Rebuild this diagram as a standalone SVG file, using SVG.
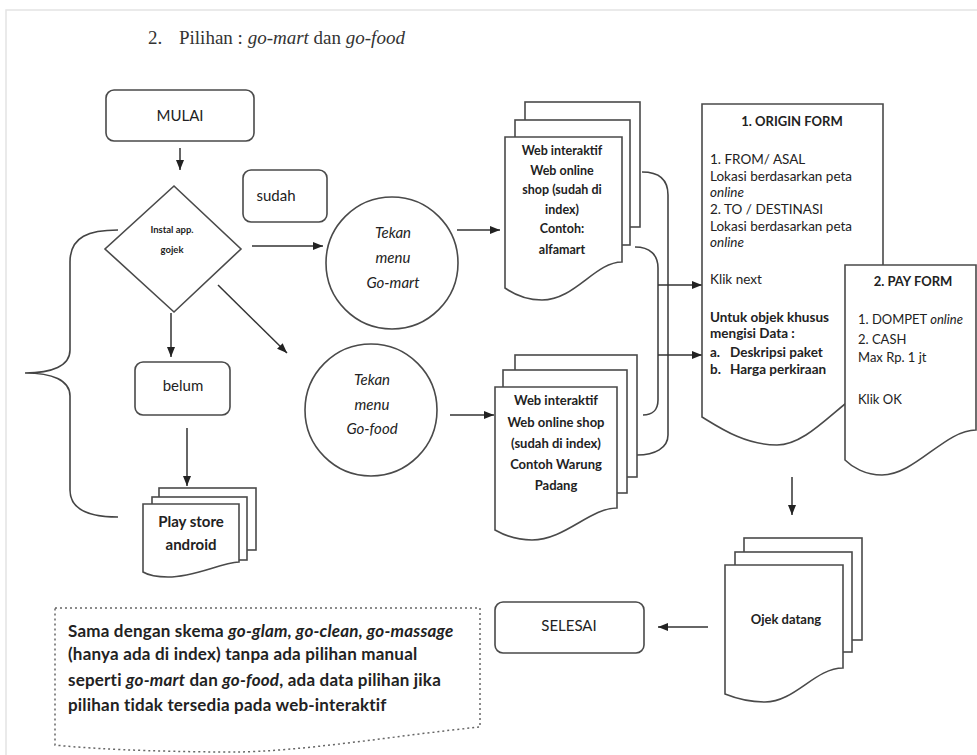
<svg xmlns="http://www.w3.org/2000/svg" width="977" height="755" viewBox="0 0 977 755">
<style>
.shape{fill:#fff;stroke:#4a4a4a;stroke-width:1.6}
.line{fill:none;stroke:#444;stroke-width:1.6}
.arrow{fill:none;stroke:#333;stroke-width:1.5;marker-end:url(#ah)}
.dot{fill:#fff;stroke:#666;stroke-width:1.5;stroke-dasharray:2 3}
text{font-family:Lato,"Liberation Sans",sans-serif;fill:#222}
.c{text-anchor:middle}
.b{font-weight:bold}
.i{font-style:italic}
.t15{font-size:15px}
.t12{font-size:12.5px}
.t13{font-size:13px}
.f13{font-size:13.5px}
.title{font-family:"Liberation Serif","Times New Roman",serif;font-size:19px;fill:#333}
.note{font-size:17px;font-weight:bold;letter-spacing:0.2px}
</style>
<defs>
<marker id="ah" markerUnits="userSpaceOnUse" markerWidth="10" markerHeight="10" viewBox="0 0 10 10" refX="10" refY="5" orient="auto">
<path d="M0,1 L10,5 L0,9 Z" fill="#222"/>
</marker>
</defs>
<rect x="0" y="0" width="977" height="755" fill="#fff"/>
<path d="M6,755 V10 H977" fill="none" stroke="#e4e4e4" stroke-width="1.5"/>

<text class="title" x="148" y="44">2.<tspan x="179">Pilihan : </tspan><tspan font-style="italic">go-mart</tspan> dan <tspan font-style="italic">go-food</tspan></text>

<g id="connectors">
<path class="line" d="M118,230 C90,230 70,236 70,262 L70,350 C70,366 52,373 25,373 C52,373 70,380 70,396 L70,490 C70,510 90,517 118,517"/>
<path class="line" d="M642,172 C660,172 668,180 668,195 V435 C668,448 655,455 637,455"/>
<path class="line" d="M635,247 C650,247 658,255 658,268 V400 C658,410 652,415 643,415"/>
<line class="arrow" x1="180" y1="148" x2="180" y2="170"/>
<line class="arrow" x1="252" y1="246" x2="323" y2="246"/>
<line class="arrow" x1="218" y1="285" x2="287" y2="353"/>
<line class="arrow" x1="171" y1="313" x2="171" y2="357"/>
<line class="arrow" x1="187" y1="428" x2="187" y2="486"/>
<line class="arrow" x1="457" y1="230" x2="500" y2="230"/>
<line class="arrow" x1="450" y1="415" x2="494" y2="415"/>
<line class="arrow" x1="658" y1="285" x2="702" y2="285"/>
<line class="arrow" x1="658" y1="355" x2="702" y2="355" stroke-width="2.2"/>
<line class="arrow" x1="792" y1="477" x2="792" y2="515"/>
<line class="arrow" x1="708" y1="627" x2="658" y2="627"/>
</g>

<g id="mulai">
<rect class="shape" x="106" y="90" width="148" height="51" rx="8"/>
<text class="c t15" x="180" y="121">MULAI</text>
</g>

<g id="instal">
<path class="shape" d="M174,186 L241,249 L174,312 L105,249 Z"/>
<text class="c b" font-size="9.5" x="172" y="233">Instal app.</text>
<text class="c b" font-size="9.5" x="172" y="253">gojek</text>
</g>

<g id="sudah">
<rect class="shape" x="243" y="170" width="84" height="52" rx="8"/>
<text class="c t15" x="276" y="201">sudah</text>
</g>

<g id="belum">
<rect class="shape" x="135" y="362" width="95" height="53" rx="8"/>
<text class="c t15" x="183" y="391">belum</text>
</g>

<g id="gomart">
<circle class="shape" cx="392" cy="263" r="66"/>
<text class="c t15 i" x="393" y="238">Tekan</text>
<text class="c t15 i" x="393" y="263">menu</text>
<text class="c t15 i" x="393" y="288">Go-mart</text>
</g>

<g id="gofood">
<circle class="shape" cx="371" cy="410" r="66"/>
<text class="c t15 i" x="372" y="385">Tekan</text>
<text class="c t15 i" x="372" y="410">menu</text>
<text class="c t15 i" x="372" y="434">Go-food</text>
</g>

<g id="playstore">
<rect class="shape" x="159" y="488" width="97" height="62"/>
<rect class="shape" x="152" y="497" width="95" height="63"/>
<path class="shape" d="M143,504 H239 V562 C220,563 195,577 168,577 C155,577 148,575 143,572 Z"/>
<text class="c b t15" x="191" y="527">Play store</text>
<text class="c b t15" x="191" y="550">android</text>
</g>

<g id="web-gomart">
<rect class="shape" x="525" y="102" width="115" height="125"/>
<rect class="shape" x="515" y="120" width="115" height="125"/>
<path class="shape" d="M505,137 H622 V262 C595,262 575,300 542,300 C525,300 512,293 505,288 Z"/>
<text class="c b t12" x="562" y="155">Web interaktif</text>
<text class="c b t12" x="562" y="175">Web online</text>
<text class="c b t12" x="562" y="194">shop (sudah di</text>
<text class="c b t12" x="562" y="214">index)</text>
<text class="c b t12" x="562" y="233">Contoh:</text>
<text class="c b t12" x="562" y="254">alfamart</text>
</g>

<g id="web-gofood">
<rect class="shape" x="515" y="355" width="122" height="122"/>
<rect class="shape" x="503" y="370" width="124" height="123"/>
<path class="shape" d="M495,387 H617 V508 C590,508 565,540 532,540 C515,540 502,534 495,530 Z"/>
<text class="c b t13" x="556" y="405">Web interaktif</text>
<text class="c b t13" x="556" y="427">Web online shop</text>
<text class="c b t13" x="556" y="448">(sudah di index)</text>
<text class="c b t13" x="556" y="469">Contoh Warung</text>
<text class="c b t13" x="556" y="490">Padang</text>
</g>

<g id="origin-form">
<path class="shape" d="M702,104 H883 V385 C850,385 815,445 777,445 C745,445 720,428 702,417 Z"/>
<text class="c b t13" x="792" y="126">1. ORIGIN FORM</text>
<text class="f13" x="710" y="164">1. FROM/ ASAL</text>
<text class="f13" x="710" y="181">Lokasi berdasarkan peta</text>
<text class="f13 i" x="710" y="197">online</text>
<text class="f13" x="710" y="214">2. TO / DESTINASI</text>
<text class="f13" x="710" y="231">Lokasi berdasarkan peta</text>
<text class="f13 i" x="710" y="247">online</text>
<text class="f13" x="710" y="284">Klik next</text>
<text class="f13 b" x="710" y="322">Untuk objek khusus</text>
<text class="f13 b" x="710" y="338">mengisi Data :</text>
<text class="f13 b" x="710" y="357">a.<tspan x="730">Deskripsi paket</tspan></text>
<text class="f13 b" x="710" y="374">b.<tspan x="730">Harga perkiraan</tspan></text>
</g>

<g id="pay-form">
<path class="shape" d="M845,265 H976 V430 C945,430 915,475 882,475 C865,475 852,467 845,460 Z"/>
<text class="c b t13" x="913" y="286">2. PAY FORM</text>
<text class="t13" x="858" y="324">1. DOMPET <tspan font-style="italic">online</tspan></text>
<text class="t13" x="858" y="344">2. CASH</text>
<text class="t13" x="858" y="362">Max Rp. 1 jt</text>
<text class="t13" x="858" y="404">Klik OK</text>
</g>

<g id="ojek">
<rect class="shape" x="744" y="538" width="118" height="102"/>
<rect class="shape" x="735" y="552" width="117" height="100"/>
<path class="shape" d="M725,565 H843 V668 C815,668 795,702 765,702 C748,702 735,698 725,694 Z"/>
<text class="c b" font-size="13" x="786" y="624">Ojek datang</text>
</g>

<g id="selesai">
<rect class="shape" x="495" y="602" width="149" height="51" rx="8"/>
<text class="c t15" x="569" y="631">SELESAI</text>
</g>

<g id="note">
<path class="dot" d="M55,608 H480 V727 C400,735 300,752 233,752 C150,752 80,748 55,745 Z"/>
<text class="note" x="68" y="637">Sama dengan skema  <tspan font-style="italic">go-glam, go-clean, go-massage</tspan></text>
<text class="note" x="68" y="660">(hanya ada di index) tanpa ada pilihan manual</text>
<text class="note" x="68" y="686">seperti <tspan font-style="italic">go-mart</tspan> dan <tspan font-style="italic">go-food</tspan>, ada data pilihan jika</text>
<text class="note" x="68" y="711">pilihan tidak tersedia pada web-interaktif</text>
</g>
</svg>
